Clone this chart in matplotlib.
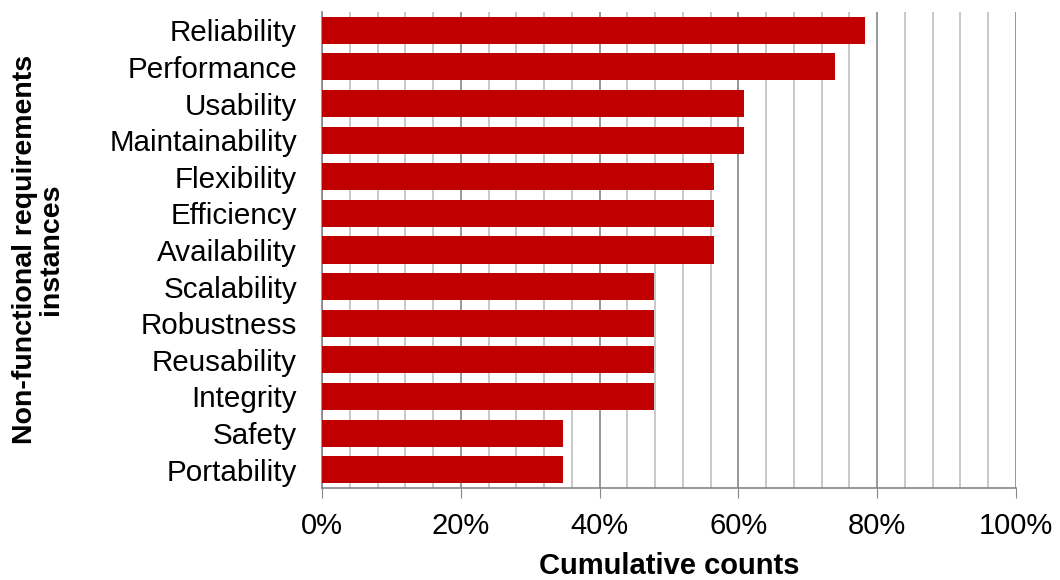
import matplotlib
matplotlib.use("Agg")
import matplotlib.pyplot as plt
from matplotlib.ticker import MultipleLocator, PercentFormatter

plt.rcParams['font.family'] = ['Liberation Sans', 'DejaVu Sans']

categories = ["Reliability", "Performance", "Usability", "Maintainability",
              "Flexibility", "Efficiency", "Availability", "Scalability",
              "Robustness", "Reusability", "Integrity", "Safety", "Portability"]
counts = [18, 17, 14, 14, 13, 13, 13, 11, 11, 11, 11, 8, 8]
total = 23
shares = [100.0 * c / total for c in counts]

fig = plt.figure(figsize=(10.6, 5.8), dpi=100)
ax = fig.add_axes([0.3038, 0.1586, 0.6547, 0.8207])

positions = list(range(len(categories)))
ax.barh(positions, shares, height=0.74, color="#C00000", zorder=3)
ax.set_yticks(positions)
ax.set_yticklabels(categories, fontsize=21.3)
ax.set_ylim(len(categories) - 0.5, -0.5)

ax.set_xlim(0, 100)
ax.xaxis.set_major_locator(MultipleLocator(20))
ax.xaxis.set_minor_locator(MultipleLocator(4))
ax.xaxis.set_major_formatter(PercentFormatter(decimals=0))
ax.tick_params(axis='x', which='major', labelsize=21, length=7, color="#868686", pad=10.5)
ax.tick_params(axis='x', which='minor', length=0)
ax.tick_params(axis='y', length=0, pad=18)

ax.grid(axis='x', which='major', color="#868686", linewidth=1.2, zorder=0)
ax.grid(axis='x', which='minor', color="#BFBFBF", linewidth=1.2, zorder=0)

for side in ("top", "right"):
    ax.spines[side].set_visible(False)
for side in ("left", "bottom"):
    ax.spines[side].set_color("#868686")
    ax.spines[side].set_linewidth(1.2)

ax.set_xlabel("Cumulative counts", fontsize=21, fontweight="bold", labelpad=8.5)
fig.text(0.036, 0.57, "Non-functional requirements\ninstances", rotation=90,
         ha="center", va="center", fontsize=20.5, fontweight="bold",
         linespacing=1.0)

fig.savefig("out.png", dpi=100)
